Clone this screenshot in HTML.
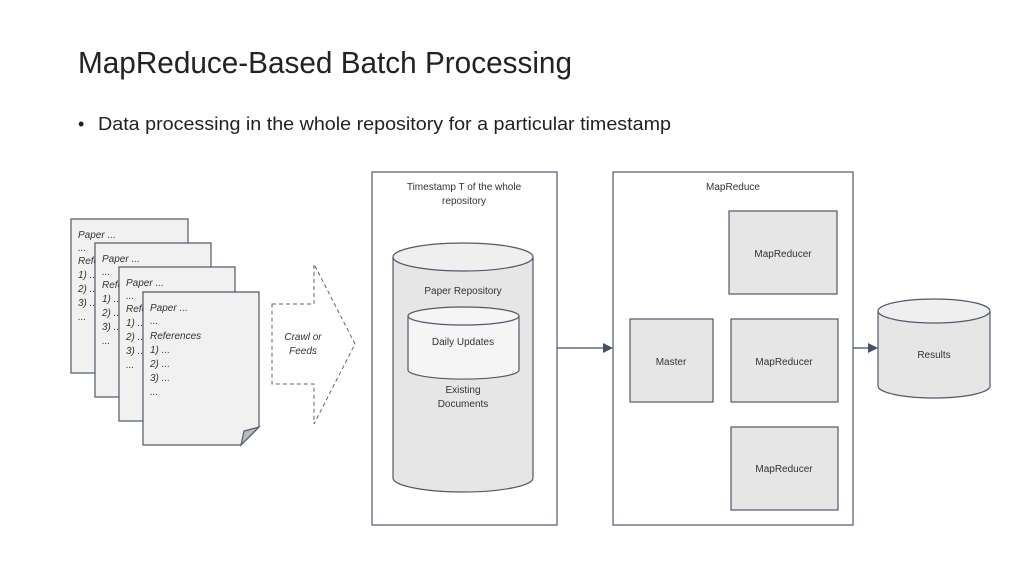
<!DOCTYPE html>
<html><head><style>
body{margin:0;width:1024px;height:576px;background:#fff;overflow:hidden;font-family:"Liberation Sans",sans-serif}
</style></head><body>
<svg width="1024" height="576" xmlns="http://www.w3.org/2000/svg" font-family="Liberation Sans, sans-serif">
<text x="78" y="73" font-size="31" fill="#222" textLength="494" lengthAdjust="spacingAndGlyphs">MapReduce-Based Batch Processing</text>
<text x="78" y="130" font-size="18" fill="#222">•</text>
<text x="98" y="130" font-size="18" fill="#222" textLength="573" lengthAdjust="spacingAndGlyphs">Data processing in the whole repository for a particular timestamp</text>

<g stroke="#505a6a" stroke-width="1.2" fill="#f1f1f2" font-size="10" font-style="italic">
<rect x="71" y="219" width="117" height="154"/>
<text x="78" y="238" stroke="none" fill="#333">Paper ...</text>
<text x="78" y="251" stroke="none" fill="#333">...</text>
<text x="78" y="264" stroke="none" fill="#333">Refe</text>
<text x="78" y="278" stroke="none" fill="#333">1) ..</text>
<text x="78" y="292" stroke="none" fill="#333">2) ..</text>
<text x="78" y="306" stroke="none" fill="#333">3) ..</text>
<text x="78" y="320" stroke="none" fill="#333">...</text>
<rect x="95" y="243" width="116" height="154"/>
<text x="102" y="262" stroke="none" fill="#333">Paper ...</text>
<text x="102" y="275" stroke="none" fill="#333">...</text>
<text x="102" y="288" stroke="none" fill="#333">Refe</text>
<text x="102" y="302" stroke="none" fill="#333">1) ..</text>
<text x="102" y="316" stroke="none" fill="#333">2) ..</text>
<text x="102" y="330" stroke="none" fill="#333">3) ..</text>
<text x="102" y="344" stroke="none" fill="#333">...</text>
<rect x="119" y="267" width="116" height="154"/>
<text x="126" y="286" stroke="none" fill="#333">Paper ...</text>
<text x="126" y="299" stroke="none" fill="#333">...</text>
<text x="126" y="312" stroke="none" fill="#333">Refe</text>
<text x="126" y="326" stroke="none" fill="#333">1) ..</text>
<text x="126" y="340" stroke="none" fill="#333">2) ..</text>
<text x="126" y="354" stroke="none" fill="#333">3) ..</text>
<text x="126" y="368" stroke="none" fill="#333">...</text>
<path d="M143 292 H259 V427 L241 445 H143 Z"/>
<path d="M241 445 L244 431 L259 427 Z" fill="#bbb"/>
<text x="150" y="311" stroke="none" fill="#333">Paper ...</text>
<text x="150" y="324" stroke="none" fill="#333">...</text>
<text x="150" y="339" stroke="none" fill="#333">References</text>
<text x="150" y="353" stroke="none" fill="#333">1) ...</text>
<text x="150" y="367" stroke="none" fill="#333">2) ...</text>
<text x="150" y="381" stroke="none" fill="#333">3) ...</text>
<text x="150" y="395" stroke="none" fill="#333">...</text>
</g>

<path d="M272 304 H314 V264 L355 344 L314 424 V384 H272 Z" fill="none" stroke="#666" stroke-dasharray="4,3"/>
<text x="303" y="340" font-size="10" font-style="italic" text-anchor="middle" fill="#333">Crawl or</text>
<text x="303" y="354" font-size="10" font-style="italic" text-anchor="middle" fill="#333">Feeds</text>

<rect x="372" y="172" width="185" height="353" fill="#fff" stroke="#505a6a" stroke-width="1.2"/>
<text x="464" y="190" font-size="10" text-anchor="middle" fill="#333">Timestamp T of the whole</text>
<text x="464" y="204" font-size="10" text-anchor="middle" fill="#333">repository</text>
<g stroke="#505a6a" stroke-width="1.2">
<path d="M393 257 V478 A70 14 0 0 0 533 478 V257" fill="#e6e6e6"/>
<ellipse cx="463" cy="257" rx="70" ry="14" fill="#efefef"/>
<path d="M408 316 V370 A55 9 0 0 0 519 370 V316" fill="#f5f5f5"/>
<ellipse cx="463.5" cy="316" rx="55.5" ry="9" fill="#f5f5f5"/>
</g>
<text x="463" y="294" font-size="10" text-anchor="middle" fill="#333">Paper Repository</text>
<text x="463" y="345" font-size="10" text-anchor="middle" fill="#333">Daily Updates</text>
<text x="463" y="393" font-size="10" text-anchor="middle" fill="#333">Existing</text>
<text x="463" y="407" font-size="10" text-anchor="middle" fill="#333">Documents</text>

<g stroke="#445066" stroke-width="1.3" fill="#445066">
<line x1="557" y1="348" x2="604" y2="348"/><path d="M603 343 L613 348 L603 353 Z" stroke="none"/>
<line x1="853" y1="348" x2="869" y2="348"/><path d="M868 343 L878 348 L868 353 Z" stroke="none"/>
</g>

<rect x="613" y="172" width="240" height="353" fill="#fff" stroke="#505a6a" stroke-width="1.2"/>
<text x="733" y="190" font-size="10" text-anchor="middle" fill="#333">MapReduce</text>
<g fill="#e6e6e6" stroke="#505a6a" stroke-width="1.2">
<rect x="630" y="319" width="83" height="83"/>
<rect x="729" y="211" width="108" height="83"/>
<rect x="731" y="319" width="107" height="83"/>
<rect x="731" y="427" width="107" height="83"/>
</g>
<g font-size="10" text-anchor="middle" fill="#333">
<text x="671" y="365">Master</text>
<text x="783" y="257">MapReducer</text>
<text x="784" y="365">MapReducer</text>
<text x="784" y="472">MapReducer</text>
</g>
<g stroke="#505a6a" stroke-width="1.2">
<path d="M878 311 V386 A56 12 0 0 0 990 386 V311" fill="#e6e6e6"/>
<ellipse cx="934" cy="311" rx="56" ry="12" fill="#efefef"/>
</g>
<text x="934" y="358" font-size="10" text-anchor="middle" fill="#333">Results</text>
</svg>
</body></html>
